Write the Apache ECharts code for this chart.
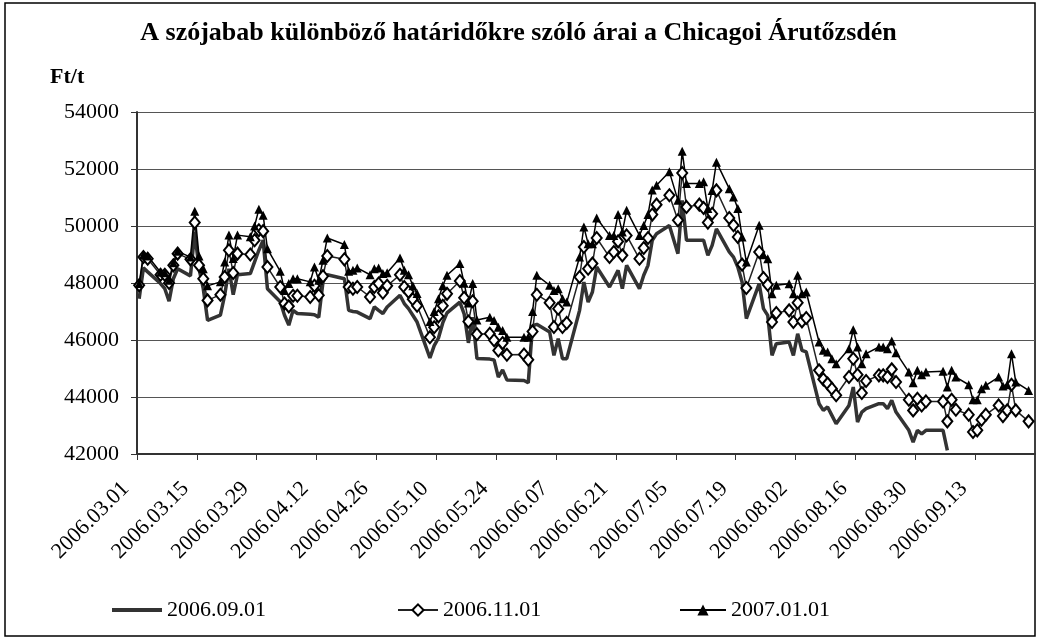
<!DOCTYPE html>
<html>
<head>
<meta charset="utf-8">
<script src="https://cdn.jsdelivr.net/npm/echarts/dist/echarts.min.js"></script>
<style>
  html, body { margin: 0; padding: 0; background: #fff; }
  #chart { width: 1037px; height: 640px; }
</style>
</head>
<body>
<div id="chart"></div>
<script>
// trading days shown on the chart
const dates = [
  '2006.03.01', '2006.03.02', '2006.03.03',
  '2006.03.06', '2006.03.07', '2006.03.08', '2006.03.09', '2006.03.10',
  '2006.03.13', '2006.03.14', '2006.03.15', '2006.03.16', '2006.03.17',
  '2006.03.20', '2006.03.21', '2006.03.22', '2006.03.23', '2006.03.24',
  '2006.03.27', '2006.03.28', '2006.03.29', '2006.03.30', '2006.03.31',
  '2006.04.03', '2006.04.04', '2006.04.05', '2006.04.06', '2006.04.07',
  '2006.04.10', '2006.04.11', '2006.04.12', '2006.04.13', '2006.04.14',
  '2006.04.18', '2006.04.19', '2006.04.20', '2006.04.21',
  '2006.04.24', '2006.04.25', '2006.04.26', '2006.04.27', '2006.04.28',
  '2006.05.01', '2006.05.02', '2006.05.03', '2006.05.04', '2006.05.05',
  '2006.05.08', '2006.05.09', '2006.05.10', '2006.05.11', '2006.05.12',
  '2006.05.15', '2006.05.16', '2006.05.17', '2006.05.18', '2006.05.19',
  '2006.05.22', '2006.05.23', '2006.05.24', '2006.05.25', '2006.05.26',
  '2006.05.30', '2006.05.31', '2006.06.01', '2006.06.02',
  '2006.06.05', '2006.06.06', '2006.06.07', '2006.06.08', '2006.06.09',
  '2006.06.12', '2006.06.13', '2006.06.14', '2006.06.15', '2006.06.16',
  '2006.06.19', '2006.06.20', '2006.06.21', '2006.06.22', '2006.06.23',
  '2006.06.26', '2006.06.27', '2006.06.28', '2006.06.29', '2006.06.30',
  '2006.07.03', '2006.07.05', '2006.07.06', '2006.07.07',
  '2006.07.10', '2006.07.11', '2006.07.12', '2006.07.13', '2006.07.14',
  '2006.07.17', '2006.07.18', '2006.07.19', '2006.07.20', '2006.07.21',
  '2006.07.24', '2006.07.25', '2006.07.26', '2006.07.27', '2006.07.28',
  '2006.07.31', '2006.08.01', '2006.08.02', '2006.08.03', '2006.08.04',
  '2006.08.07', '2006.08.08', '2006.08.09', '2006.08.10', '2006.08.11',
  '2006.08.14', '2006.08.15', '2006.08.16', '2006.08.17', '2006.08.18',
  '2006.08.21', '2006.08.22', '2006.08.23', '2006.08.24', '2006.08.25',
  '2006.08.28', '2006.08.29', '2006.08.30', '2006.08.31', '2006.09.01',
  '2006.09.05', '2006.09.06', '2006.09.07', '2006.09.08',
  '2006.09.11', '2006.09.12', '2006.09.13', '2006.09.14', '2006.09.15',
  '2006.09.18', '2006.09.19', '2006.09.20', '2006.09.21', '2006.09.22',
  '2006.09.25'
];

// 2006.09.01 contract (ends early in September)
const sep06 = [
  47450, 48530, 48390,
  47980, 47800, 47360, 48150, 48500,
  48250, 49790, 48500, 47800, 46690,
  46870, 47570, 48500, 47590, 48290,
  48330, 48740, 49150, 49500, 47800,
  47340, 46870, 46520, 47040, 46930,
  46900, 46890, 46800, 48040, 48290,
  48150, 47040, 47000, 46980,
  46750, 47160, 47040, 46930, 47160,
  47570, 47280, 47100, 46870, 46630,
  45370, 45800, 46070, 46600, 46950,
  47330, 46920, 45900, 46800, 45350,
  45330, 45300, 44700, 44950, 44600,
  44580, 44500, 46500, 46550,
  46280, 45460, 46050, 45345, 45345,
  47040, 48035, 47330, 47685, 48560,
  47860, 48150, 48445, 47800, 48620,
  47800, 48270, 48620, 49500, 49730,
  50020, 49030, 50900, 49500,
  49500, 49500, 48970, 49320, 49900,
  49090, 48910, 48560, 48035, 46750,
  47975, 47100, 46865, 45460, 45870,
  45930, 45460, 46220, 45640, 45580,
  43765, 43530, 43650, 43355, 43060,
  43705, 44350, 43120, 43470, 43590,
  43765, 43765, 43590, 43880, 43470,
  42830, 42420, 42830, 42710, 42830,
  42830, 42130
];

// 2006.11.01 contract
const nov06 = [
  47920, 48910, 48850,
  48290, 48290, 48000, 48620, 49030,
  48830, 50120, 48620, 48150, 47390,
  47590, 48210, 49150, 48350, 49030,
  49000, 49500, 49850, 49820, 48560,
  47860, 47280, 47180, 47550, 47550,
  47510, 47900, 47570, 48240, 48950,
  48830, 47860, 47800, 47860,
  47510, 47860, 47980, 47660, 47900,
  48290, 47860, 47690, 47430, 47200,
  46100, 46450, 46830, 47200, 47620,
  48070, 47480, 46650, 47360, 46200,
  46220, 45990, 45635, 45895, 45485,
  45490, 45310, 46300, 47590,
  47310, 46455, 47100, 46455, 46600,
  48210, 49265, 48500, 48680, 49580,
  48910, 49090, 49460, 48970, 49670,
  48850, 49230, 49580, 50400, 50750,
  51080, 50200, 51860, 50670,
  50750, 50630, 50120, 50430, 51250,
  50280, 50025, 49615, 48645, 47825,
  49090, 48175, 47940, 46630, 46945,
  47040, 46630, 47310, 46655, 46770,
  44935, 44620, 44470, 44290, 44060,
  44700, 45345, 44780, 44140, 44560,
  44760, 44760, 44700, 44970, 44525,
  43905, 43530, 43940, 43705, 43845,
  43845, 43145, 43905, 43555,
  43380, 42770, 42830, 43200, 43380,
  43705, 43330, 43530, 44430, 43530,
  43145
];

// 2007.01.01 contract
const jan07 = [
  47980, 48990, 48950,
  48380, 48360, 48100, 48710, 49110,
  48910, 50520, 48950, 48500, 47900,
  48040, 48740, 49680, 48860, 49680,
  49620, 50000, 50590, 50380, 49200,
  48410, 47740, 47980, 48150, 48150,
  48040, 48560, 48100, 48800, 49580,
  49350, 48410, 48450, 48530,
  48290, 48500, 48530, 48330, 48360,
  48880, 48450, 48290, 47900, 47630,
  46650, 47000, 47450, 47900, 48270,
  48680, 47990, 47300, 47980, 46700,
  46800, 46680, 46450, 46330, 46100,
  46100, 46100, 47000, 48270,
  47920, 47740, 47800, 47450, 47330,
  48910, 49965, 49380, 49380, 50280,
  49670, 49670, 50400, 49790, 50550,
  49670, 50020, 50400, 51260, 51430,
  51900, 50900, 52620, 51490,
  51490, 51550, 50610, 51250, 52240,
  51310, 51020, 50610, 49615, 48740,
  50025, 48995, 48855, 47625, 47920,
  47975, 47625, 48270, 47625, 47685,
  45930, 45640, 45580, 45345, 45170,
  45695, 46360, 45755, 45170, 45520,
  45755, 45755, 45695, 45965, 45555,
  44875, 44500, 44935, 44785, 44875,
  44900, 44350, 44935, 44700,
  44430, 43905, 43905, 44290, 44410,
  44700, 44385, 44430, 45520, 44525,
  44230
];

const seriesNames = ['2006.09.01', '2006.11.01', '2007.01.01'];
const yMin = 42000;
const yMax = 54000;
const yStep = 2000;

const DAY = 86400000;
const start = Date.UTC(2006, 2, 1);
const FONT = 'Liberation Serif';

// day number since 2006.03.01; points sit in the middle of their day
function dayOf(s) {
  const p = s.split('.').map(Number);
  return (Date.UTC(p[0], p[1] - 1, p[2]) - start) / DAY;
}
function pairs(vals) {
  return vals.map((v, i) => [dayOf(dates[i]) + 0.5, v]);
}
function pad(n) {
  return n < 10 ? '0' + n : '' + n;
}
function fmtDay(v) {
  const t = new Date(start + v * DAY);
  return t.getUTCFullYear() + '.' + pad(t.getUTCMonth() + 1) + '.' + pad(t.getUTCDate());
}

const chart = echarts.init(document.getElementById('chart'));

const legendBase = {
  top: 594,
  itemHeight: 14,
  itemGap: 4,
  selectedMode: false,
  textStyle: { fontFamily: FONT, fontSize: 22, color: '#000' }
};

const option = {
  animation: false,
  backgroundColor: '#fff',
  title: {
    text: 'A szójabab különböző határidőkre szóló árai a Chicagoi Árutőzsdén',
    left: 'center',
    top: 15,
    textStyle: { fontFamily: FONT, fontSize: 26, fontWeight: 'bold', color: '#000' }
  },
  legend: [
    Object.assign({}, legendBase, {
      left: 107,
      itemWidth: 50,
      itemHeight: 4,
      data: [{ name: seriesNames[0], icon: 'rect' }]
    }),
    Object.assign({}, legendBase, { left: 392, itemWidth: 40, data: [seriesNames[1]] }),
    Object.assign({}, legendBase, { left: 674, itemWidth: 46, data: [seriesNames[2]] })
  ],
  grid: { left: 137, right: 2, top: 112, bottom: 186 },
  xAxis: {
    type: 'value',
    min: 0,
    max: 210,
    interval: 14,
    axisLine: { lineStyle: { color: '#333', width: 2 } },
    axisTick: { show: true, length: 6, lineStyle: { color: '#333', width: 1 } },
    splitLine: { show: false },
    axisLabel: {
      rotate: 45,
      margin: 20,
      padding: [0, 16, 0, 0],
      showMaxLabel: false,
      fontFamily: FONT,
      fontSize: 22,
      color: '#000',
      formatter: fmtDay
    }
  },
  yAxis: {
    type: 'value',
    min: yMin,
    max: yMax,
    interval: yStep,
    axisLine: { show: true, lineStyle: { color: '#333', width: 2 } },
    axisTick: { show: true, length: 6, lineStyle: { color: '#333', width: 1 } },
    splitLine: { lineStyle: { color: '#555', width: 1 } },
    axisLabel: {
      margin: 18,
      fontFamily: FONT,
      fontSize: 22,
      color: '#000',
      formatter: v => String(v)
    }
  },
  graphic: [
    {
      type: 'rect',
      shape: { x: 5, y: 3, width: 1030, height: 633 },
      style: { fill: 'none', stroke: '#000', lineWidth: 1.5 },
      silent: true
    },
    {
      type: 'text',
      left: 50,
      top: 66,
      style: { text: 'Ft/t', fontFamily: FONT, fontSize: 22, fontWeight: 'bold', fill: '#000' }
    }
  ],
  series: [
    {
      name: seriesNames[0],
      type: 'line',
      data: pairs(sep06),
      symbol: 'none',
      lineStyle: { color: '#333', width: 3.5 },
      itemStyle: { color: '#333' }
    },
    {
      name: seriesNames[1],
      type: 'line',
      data: pairs(nov06),
      symbol: 'diamond',
      symbolSize: [10, 12],
      lineStyle: { color: '#222', width: 1.5 },
      itemStyle: { color: '#fff', borderColor: '#000', borderWidth: 2 }
    },
    {
      name: seriesNames[2],
      type: 'line',
      data: pairs(jan07),
      symbol: 'triangle',
      symbolSize: 9,
      lineStyle: { color: '#000', width: 1.5 },
      itemStyle: { color: '#000' }
    }
  ]
};

chart.setOption(option);
</script>
</body>
</html>
